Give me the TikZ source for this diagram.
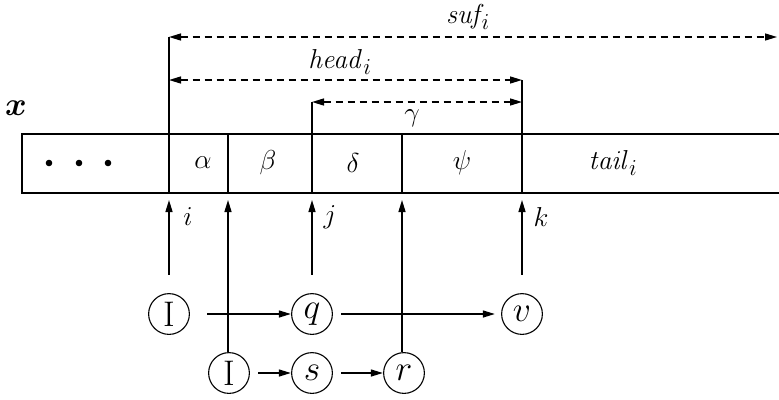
\documentclass[tikz,border=0pt]{standalone}
\usetikzlibrary{arrows.meta}
\begin{document}
\begin{tikzpicture}[x=1pt,y=-1pt,
  every node/.style={font=\Huge,scale=1.1,transform shape},
  ln/.style={line width=1.4pt},
  arr/.style={ln,-{Triangle[length=12pt,width=7pt]}},
  darr/.style={ln,dash pattern=on 7pt off 5pt,{Triangle[length=12pt,width=7pt]}-{Triangle[length=12pt,width=7pt]}},
  st/.style={circle,draw,line width=1.1pt,scale=1.3,minimum size=28.5pt,inner sep=0pt}]
\useasboundingbox (0,0) rectangle (779,399);
% box
\draw[ln] (779,134) -- (22,134) -- (22,193) -- (779,193);
\foreach \xx in {169,228,312,402,522} \draw[ln] (\xx,134) -- (\xx,193);
\foreach \xx in {49,79,108} \fill (\xx,163) circle (3.3pt);
\node (a) at (203,163) {$\alpha$};
\node (b) at (268,163) {$\beta$};
\node (d) at (353,163) {$\delta$};
\node (p) at (462,163) {$\psi$};
\node (t) at (613,163) {$\mathit{tail}_i$};
\node[scale=1.2,font=\Huge\boldmath] (x) at (16,108) {$x$};
% brackets
\draw[ln] (169,134) -- (169,37);
\draw[ln] (312,134) -- (312,102);
\draw[ln] (522,134) -- (522,80);
\coordinate (s1) at (169,37); \coordinate (s2) at (777,37);
\coordinate (h1) at (169,80); \coordinate (h2) at (522,80);
\coordinate (g1) at (312,102); \coordinate (g2) at (522,102);
\draw[darr] (s1) -- (s2);
\draw[darr] (h1) -- (h2);
\draw[darr] (g1) -- (g2);
\node (suf) at (468,17) {$\mathit{suf}_{\!i}$};
\node (head) at (340,62) {$\mathit{head}_i$};
\node (gam) at (412,118) {$\gamma$};
% states
\node[st] (I1) at (169,314) {I};
\node[st] (q) at (312,314) {$q$};
\node[st] (v) at (522,314) {$v$};
\node[st] (I2) at (229,373) {I};
\node[st] (s) at (312,373) {$s$};
\node[st] (r) at (404,373) {$r$};
\draw[arr,shorten <=17pt] (I1.east) -- (q.west);
\draw[arr,shorten <=8pt,shorten >=6pt] (q.east) -- (v.west);
\draw[arr,shorten <=8pt] (I2.east) -- (s.west);
\draw[arr,shorten <=8pt] (s.east) -- (r.west);
% pointers
\coordinate (pi) at (169,200);
\coordinate (pa) at (228,200);
\coordinate (pj) at (312,200);
\coordinate (pr) at (402,200);
\coordinate (pk) at (522,200);
\draw[arr,shorten <=18pt] (I1.north) -- (pi);
\draw[arr,shorten <=18pt] (q.north) -- (pj);
\draw[arr,shorten <=18pt] (v.north) -- (pk);
\draw[arr] (I2.north -| pa) -- (pa);
\draw[arr] (r.north -| pr) -- (pr);
\node (li) at (188,217) {$i$};
\node (lj) at (330,217) {$j$};
\node (lk) at (541,217) {$k$};
\end{tikzpicture}
\end{document}
